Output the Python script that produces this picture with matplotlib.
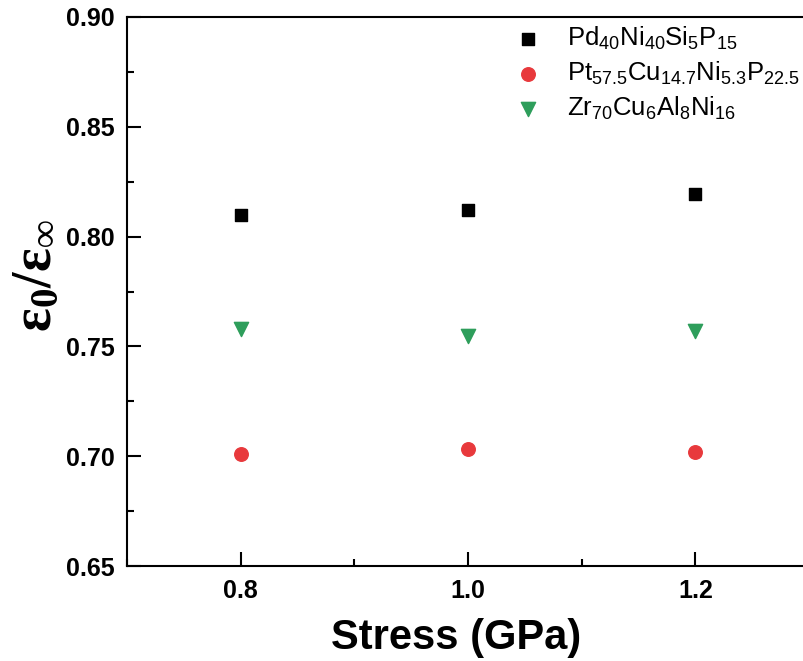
import numpy as np
import matplotlib
matplotlib.use("Agg")
import matplotlib.pyplot as plt
from matplotlib.ticker import MultipleLocator

plt.rcParams['font.family'] = ['Liberation Sans', 'DejaVu Sans']
plt.rcParams['mathtext.fontset'] = 'custom'
plt.rcParams['mathtext.rm'] = 'Liberation Sans'
plt.rcParams['mathtext.it'] = 'Liberation Sans'
plt.rcParams['mathtext.bf'] = 'Liberation Serif:bold'

# data
stress = [0.8, 1.0, 1.2]
pd_vals = [0.810, 0.812, 0.8195]
pt_vals = [0.7012, 0.7031, 0.7018]
zr_vals = [0.7580, 0.7548, 0.7572]

labels = [r'Pd$_{40}$Ni$_{40}$Si$_{5}$P$_{15}$',
          r'Pt$_{57.5}$Cu$_{14.7}$Ni$_{5.3}$P$_{22.5}$',
          r'Zr$_{70}$Cu$_{6}$Al$_{8}$Ni$_{16}$']

fig = plt.figure(figsize=(8.04, 6.61), dpi=100)
# right edge of the axes runs past the figure, like the cropped original
ax = fig.add_axes([127/804, 95/661, 682/804, 549/661])

ax.scatter(stress, pd_vals, marker='s', s=70, color='black', label=labels[0])
ax.scatter(stress, pt_vals, marker='o', s=95, color='#e8393c', label=labels[1])
ax.scatter(stress, zr_vals, marker='v', s=105, color='#2e9e5b', label=labels[2])

ax.set_xlim(0.7, 1.3)
ax.set_ylim(0.65, 0.90)
ax.xaxis.set_major_locator(MultipleLocator(0.2))
ax.xaxis.set_minor_locator(MultipleLocator(0.1))
ax.yaxis.set_major_locator(MultipleLocator(0.05))
ax.yaxis.set_minor_locator(MultipleLocator(0.025))
ax.xaxis.set_major_formatter(plt.FuncFormatter(lambda v, p: f"{v:.1f}"))
ax.yaxis.set_major_formatter(plt.FuncFormatter(lambda v, p: f"{v:.2f}"))

ax.tick_params(which='both', direction='in', width=1.5, top=False, right=False)
ax.tick_params(which='major', length=10, labelsize=18, pad=9)
ax.tick_params(which='minor', length=5)
for lab in ax.get_xticklabels() + ax.get_yticklabels():
    lab.set_fontweight('bold')
for sp in ax.spines.values():
    sp.set_linewidth(1.5)

ax.set_xlabel('Stress (GPa)', fontsize=30, fontweight='bold')
ax.xaxis.set_label_coords(0.482, -0.095)
ax.set_ylabel(r'$\mathbf{\varepsilon_0/\varepsilon_\infty}$', fontsize=40)
ax.yaxis.set_label_coords(-0.093, 0.53)

ax.legend(loc='upper left', bbox_to_anchor=(0.532, 1.018), frameon=False,
          fontsize=18.5, handletextpad=0.7, labelspacing=0.3, borderaxespad=0.3,
          handlelength=1.6)

fig.savefig('out.png', dpi=100)
